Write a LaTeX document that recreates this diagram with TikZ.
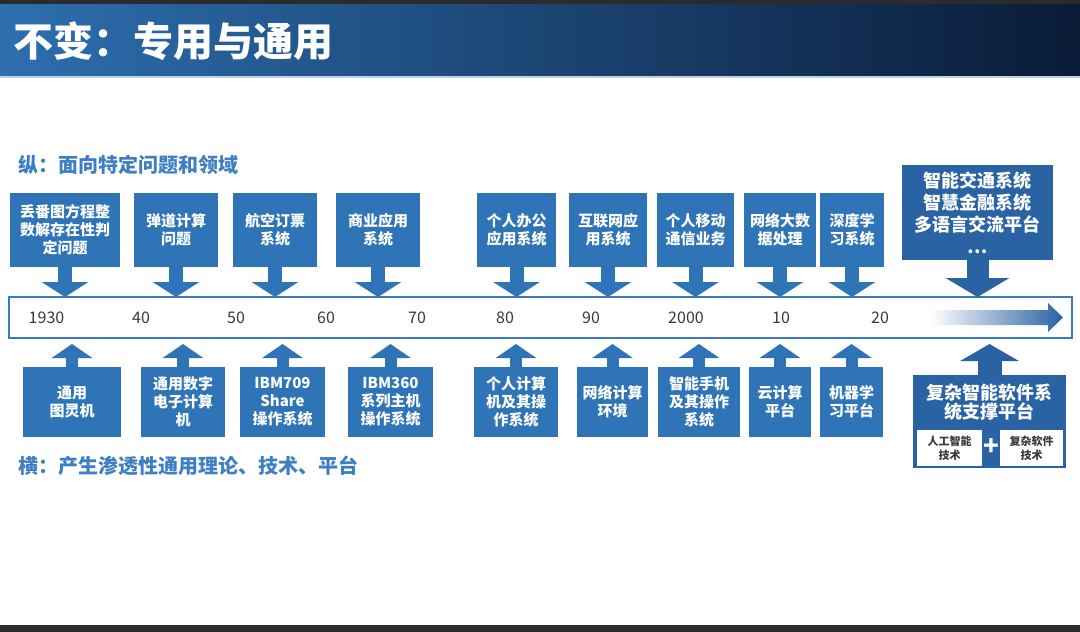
\documentclass[tikz,border=0pt]{standalone}
\usepackage{fontspec}
\setmainfont{Noto Sans CJK SC}
\usetikzlibrary{arrows.meta,positioning}

\definecolor{boxblue}{HTML}{2E74B6}
\definecolor{deepblue}{HTML}{2A63A4}
\definecolor{lineblue}{HTML}{3A7BBF}
\definecolor{labelblue}{HTML}{3E7FC4}
\definecolor{yeargray}{HTML}{3A3A3A}
\definecolor{titleL}{HTML}{2D6FB0}
\definecolor{titleM}{HTML}{245B97}
\definecolor{titleR}{HTML}{0A1B37}
\definecolor{framedark}{HTML}{2B2B2B}

\begin{document}
\begin{tikzpicture}[x=1pt, y=-1pt,
  every node/.style = {inner sep=0pt, align=center, text=white,
                       font=\fontsize{15}{18}\selectfont\bfseries},
  topbox/.style = {fill=boxblue, minimum height=74pt},
  botbox/.style = {fill=boxblue, minimum height=70pt},
  downarr/.style = {boxblue, line width=14pt, -{Triangle[width=46pt,length=15pt]}},
  uparr/.style = {boxblue, line width=12pt, -{Triangle[width=40pt,length=14pt]}},
  year/.style = {font=\fontsize{16}{16}\selectfont, text=yeargray},
  axislabel/.style = {font=\fontsize{20}{20}\selectfont\bfseries, text=labelblue, anchor=west},
]

\useasboundingbox (0,0) rectangle (1080,632);
\fill[white] (0,0) rectangle (1080,632);

%% ── Title band ───────────────────────────────────────────────────────────────
\fill[framedark] (0,0) rectangle (1080,4);
\shade[left color=titleL, middle color=titleM, right color=titleR] (0,4) rectangle (1080,76);
\fill[labelblue!35] (0,76) rectangle (1080,78);
\fill[framedark] (0,625) rectangle (1080,632);
\node[anchor=west, font=\fontsize{40}{40}\selectfont\bfseries] (title) at (13,41)
  {不变：专用与通用};

%% ── Axis labels ──────────────────────────────────────────────────────────────
\node[axislabel] (vlabel) at (18,165) {纵：面向特定问题和领域};
\node[axislabel] (hlabel) at (18,466) {横：产生渗透性通用理论、技术、平台};

%% ── Time line ────────────────────────────────────────────────────────────────
\node[draw=lineblue, line width=2.5pt, fill=white, outer sep=0pt,
      minimum width=1063pt, minimum height=41pt] (tl) at (540.5,317.5) {};
\coordinate (tlbot) at ([yshift=-6pt]tl.south);

\node[year] (y1930) at (46.5,318) {1930};
\node[year] (y40) at (141,318) {40};
\node[year] (y50) at (236,318) {50};
\node[year] (y60) at (326,318) {60};
\node[year] (y70) at (417,318) {70};
\node[year] (y80) at (505,318) {80};
\node[year] (y90) at (591,318) {90};
\node[year] (y2000) at (686,318) {2000};
\node[year] (y10) at (781,318) {10};
\node[year] (y20) at (880,318) {20};

\shade[left color=white, middle color=boxblue!55, right color=deepblue]
  (930,310) -- (1048,310) -- (1048,303) -- (1063,317.5) -- (1048,332)
  -- (1048,325) -- (930,325) -- cycle;

%% ── Vertical: special problems and domains (top) ─────────────────────────────
\node[topbox, minimum width=110pt] (q1) at (65,230) {丢番图方程整\\数解存在性判\\定问题};
\node[topbox, minimum width=84pt] (q2) at (176,230) {弹道计算\\问题};
\node[topbox, minimum width=84pt] (q3) at (275,230) {航空订票\\系统};
\node[topbox, minimum width=84pt] (q4) at (378,230) {商业应用\\系统};
\node[topbox, minimum width=79pt] (q5) at (516.5,230) {个人办公\\应用系统};
\node[topbox, minimum width=78pt] (q6) at (608,230) {互联网应\\用系统};
\node[topbox, minimum width=77pt] (q7) at (695.5,230) {个人移动\\通信业务};
\node[topbox, minimum width=72pt] (q8) at (780,230) {网络大数\\据处理};
\node[topbox, minimum width=64pt] (q9) at (852,230) {深度学\\习系统};
\node[fill=deepblue, minimum width=151pt, minimum height=95pt,
      font=\fontsize{18}{22}\selectfont\bfseries] (q10) at (977.5,212.5)
  {智能交通系统\\智慧金融系统\\多语言交流平台\\…};

\draw[downarr] (q1.south) -- (q1.south |- tl.north);
\draw[downarr] (q2.south) -- (q2.south |- tl.north);
\draw[downarr] (q3.south) -- (q3.south |- tl.north);
\draw[downarr] (q4.south) -- (q4.south |- tl.north);
\draw[downarr] (q5.south) -- (q5.south |- tl.north);
\draw[downarr] (q6.south) -- (q6.south |- tl.north);
\draw[downarr] (q7.south) -- (q7.south |- tl.north);
\draw[downarr] (q8.south) -- (q8.south |- tl.north);
\draw[downarr] (q9.south) -- (q9.south |- tl.north);
\draw[deepblue, line width=22pt, -{Triangle[width=63pt,length=19pt]}]
  (q10.south) -- (q10.south |- tl.north);

%% ── Horizontal: general platforms (bottom) ───────────────────────────────────
\node[botbox, minimum width=98pt] (p1) at (72,402) {通用\\图灵机};
\node[botbox, minimum width=84pt] (p2) at (183,402) {通用数字\\电子计算\\机};
\node[botbox, minimum width=85pt] (p3) at (282.5,402) {IBM709\\Share\\操作系统};
\node[botbox, minimum width=85pt] (p4) at (390.5,402) {IBM360\\系列主机\\操作系统};
\node[botbox, minimum width=84pt] (p5) at (516,402) {个人计算\\机及其操\\作系统};
\node[botbox, minimum width=71pt] (p6) at (612.5,402) {网络计算\\环境};
\node[botbox, minimum width=82pt] (p7) at (699,402) {智能手机\\及其操作\\系统};
\node[botbox, minimum width=62pt] (p8) at (780,402) {云计算\\平台};
\node[botbox, minimum width=63pt] (p9) at (851.5,402) {机器学\\习平台};

\node[fill=deepblue, minimum width=153pt, minimum height=93pt] (plat) at (989.5,421.5) {};
\node[font=\fontsize{18}{19}\selectfont\bfseries] (plattext) at (989.5,402.5)
  {复杂智能软件系\\统支撑平台};
\node[fill=white, text=yeargray, minimum width=65pt, minimum height=36pt,
      font=\fontsize{11}{14}\selectfont\bfseries] (ai) at (949.5,448) {人工智能\\技术};
\node[fill=white, text=yeargray, minimum width=63pt, minimum height=36pt,
      font=\fontsize{11}{14}\selectfont\bfseries] (sw) at (1031.5,448) {复杂软件\\技术};
\node[font=\fontsize{26}{26}\selectfont\bfseries] (plus) at (991,447) {+};

\draw[uparr] (p1.north) -- (p1.north |- tlbot);
\draw[uparr] (p2.north) -- (p2.north |- tlbot);
\draw[uparr] (p3.north) -- (p3.north |- tlbot);
\draw[uparr] (p4.north) -- (p4.north |- tlbot);
\draw[uparr] (p5.north) -- (p5.north |- tlbot);
\draw[uparr] (p6.north) -- (p6.north |- tlbot);
\draw[uparr] (p7.north) -- (p7.north |- tlbot);
\draw[uparr] (p8.north) -- (p8.north |- tlbot);
\draw[uparr] (p9.north) -- (p9.north |- tlbot);
\draw[deepblue, line width=24pt, -{Triangle[width=58pt,length=17pt]}]
  (plat.north) -- (plat.north |- tlbot);

\end{tikzpicture}
\end{document}
